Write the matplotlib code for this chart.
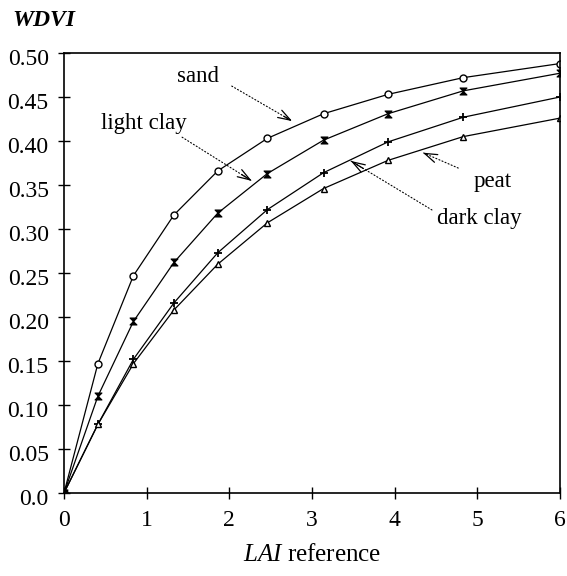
import matplotlib
matplotlib.use("Agg")
import matplotlib.pyplot as plt
from matplotlib.path import Path
import matplotlib.transforms as mtransforms

lai = [0.0, 0.41, 0.84, 1.33, 1.86, 2.46, 3.14, 3.92, 4.83, 6.0]
sand = [0.0, 0.147, 0.247, 0.316, 0.366, 0.403, 0.431, 0.453, 0.472, 0.488]
light_clay = [0.0, 0.110, 0.195, 0.262, 0.318, 0.363, 0.401, 0.431, 0.457, 0.477]
dark_clay = [0.0, 0.078, 0.152, 0.216, 0.273, 0.322, 0.364, 0.399, 0.427, 0.450]
peat = [0.0, 0.078, 0.147, 0.208, 0.260, 0.307, 0.346, 0.378, 0.405, 0.426]

yticks = [0.0, 0.05, 0.10, 0.15, 0.20, 0.25, 0.30, 0.35, 0.40, 0.45, 0.50]
ytick_labels = ["0.0", "0.05", "0.10", "0.15", "0.20", "0.25", "0.30", "0.35", "0.40", "0.45", "0.50"]
xticks = [0, 1, 2, 3, 4, 5, 6]

plt.rcParams['font.family'] = ['Liberation Serif', 'DejaVu Serif']
plt.rcParams['mathtext.fontset'] = 'custom'
plt.rcParams['mathtext.rm'] = 'Liberation Serif'
plt.rcParams['mathtext.it'] = 'Liberation Serif:italic'

fig = plt.figure(figsize=(5.67, 5.76), dpi=100)
ax = fig.add_axes([64/567, 1-493/576, (560-64)/567, (493-53)/576])

hourglass = Path([(-1, 1), (1, 1), (-1, -1), (1, -1), (-1, 1)],
                 [Path.MOVETO, Path.LINETO, Path.LINETO, Path.LINETO, Path.CLOSEPOLY])

lw = 0.9
ax.plot(lai, sand, color='black', lw=lw, marker='o', ms=5, mfc='white', mec='black', mew=1.0)
ax.plot(lai, light_clay, color='black', lw=lw, marker=hourglass, ms=5, mfc='black', mec='black', mew=0.8)
ax.plot(lai, dark_clay, color='black', lw=lw, marker='+', ms=6, mec='black', mew=1.3)
ax.plot(lai, peat, color='black', lw=lw, marker='^', ms=5, mfc='white', mec='black', mew=1.0)
ax.plot([0], [0], 's', color='black', ms=5)

ax.set_xlim(0, 6)
ax.set_ylim(0, 0.5)
ax.set_xticks(xticks)
ax.set_xticklabels([str(t) for t in xticks])
ax.set_yticks(yticks)
ax.set_yticklabels(ytick_labels)
ax.tick_params(direction='inout', length=8, width=1, labelsize=17, pad=8)
ax.tick_params(axis='y', pad=7)
offset = mtransforms.ScaledTranslation(0, -4/100, fig.dpi_scale_trans)
for lab in ax.get_yticklabels():
    lab.set_transform(lab.get_transform() + offset)
for s in ax.spines.values():
    s.set_linewidth(1.2)

fs = 16.5
def label(text, txy, tail, head):
    ax.text(txy[0], txy[1], text, fontsize=fs, ha='center', va='center')
    ax.annotate('', xy=head, xytext=tail,
                arrowprops=dict(arrowstyle='-', linestyle=(0, (1, 2)), color='black', lw=0.8))
    dx = head[0] - tail[0]
    dy = head[1] - tail[1]
    ax.annotate('', xy=head, xytext=(head[0] - 0.2 * dx, head[1] - 0.2 * dy),
                arrowprops=dict(arrowstyle='->,head_length=0.9,head_width=0.3', color='black', lw=0.9))

label('sand', (1.615, 0.473), (2.0, 0.464), (2.79, 0.421))
label('light clay', (0.97, 0.420), (1.40, 0.406), (2.30, 0.353))
label('peat', (5.18, 0.354), (4.80, 0.368), (4.31, 0.388))
label('dark clay', (5.02, 0.312), (4.48, 0.320), (3.44, 0.379))

fig.text(12/567, 1-21/576, 'WDVI', fontsize=17, style='italic', weight='bold', ha='left', va='center')
fig.text(312/567, 1-555/576, r'$\mathit{LAI}$ reference', fontsize=18, ha='center', va='center')

fig.savefig('out.png', dpi=100)
